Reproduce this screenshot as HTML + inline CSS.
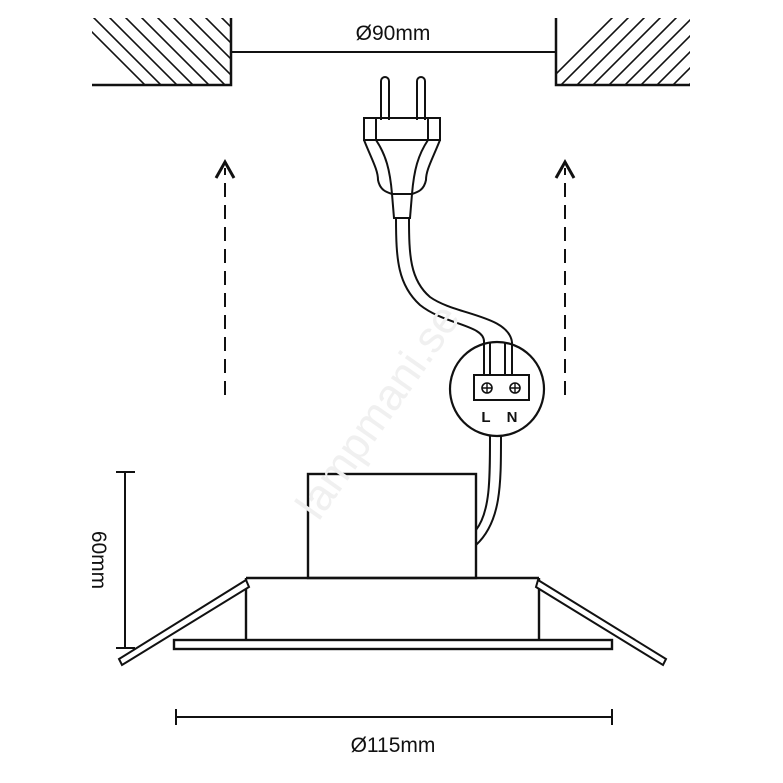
<!DOCTYPE html>
<html><head><style>body{margin:0;background:#fff}svg{display:block}</style></head><body>
<svg width="783" height="783" viewBox="0 0 783 783" xmlns="http://www.w3.org/2000/svg">
<defs>
<clipPath id="cl"><rect x="92" y="18" width="138" height="67"/></clipPath>
<clipPath id="cr"><rect x="556" y="18" width="134" height="67"/></clipPath>
</defs>
<g stroke="#111" stroke-width="1.6" fill="none">
<g clip-path="url(#cl)">
<path d="M40,-20 l110,110 M56,-20 l110,110 M72,-20 l110,110 M88,-20 l110,110 M104,-20 l110,110 M120,-20 l110,110 M136,-20 l110,110 M152,-20 l110,110 M168,-20 l110,110 M184,-20 l110,110 M200,-20 l110,110 M216,-20 l110,110"/>
</g>
<g clip-path="url(#cr)">
<path d="M540,90 l110,-110 M556,90 l110,-110 M572,90 l110,-110 M588,90 l110,-110 M604,90 l110,-110 M620,90 l110,-110 M636,90 l110,-110 M652,90 l110,-110 M668,90 l110,-110 M684,90 l110,-110 M700,90 l110,-110"/>
</g>
<path d="M92,85 H231 V18" stroke-width="2.5"/>
<path d="M690,85 H556 V18" stroke-width="2.5"/>
<path d="M231,52 H556" stroke-width="2"/>
<path d="M225,395 V168 M565,395 V168" stroke-width="2" stroke-dasharray="14,8"/>
<path d="M216,178 L225,162 L234,178 M556,178 L565,162 L574,178" stroke-width="3"/>
<path d="M381,120 V81 a4,4 0 0 1 8,0 V120 M417,120 V81 a4,4 0 0 1 8,0 V120" stroke-width="2"/>
<rect x="364" y="118" width="76" height="22" stroke-width="2"/>
<path d="M376,118 V140 M428,118 V140" stroke-width="2"/>
<path d="M364,140 C372,160 378,170 378,180 C380,190 386,192 392,194 L412,194 C418,192 424,190 426,180 C426,170 432,160 440,140" stroke-width="2"/>
<path d="M376,140 C386,155 390,170 392,194 M428,140 C418,155 414,170 412,194" stroke-width="2"/>
<path d="M392,194 L394,218 H410 L412,194" stroke-width="2"/>
<path d="M396,218 C396,260 398,285 420,305 C445,325 485,325 484,342" stroke-width="2"/>
<path d="M409,218 C409,255 410,280 430,297 C455,315 508,315 512,342" stroke-width="2"/>
<circle cx="497" cy="389" r="47" stroke-width="2.2"/>
<path d="M484,342 V375 M490,342 V375 M505,342 V375 M512,342 V375" stroke-width="2"/>
<rect x="474" y="375" width="55" height="25" stroke-width="2"/>
<circle cx="487" cy="388" r="5" stroke-width="1.6"/><path d="M482,388 h10 M487,383 v10" stroke-width="1.4"/>
<circle cx="515" cy="388" r="5" stroke-width="1.6"/><path d="M510,388 h10 M515,383 v10" stroke-width="1.4"/>
<path d="M490,436 C490,480 490,512 476,530 M501,436 C501,485 501,522 476,545" stroke-width="2"/>
<rect x="308" y="474" width="168" height="104" stroke-width="2.4"/>
<path d="M246,578 H539 M246,578 V640 M539,578 V640" stroke-width="2.4"/>
<rect x="174" y="640" width="438" height="9" stroke-width="2.4"/>
<path d="M246,580 L119,659 L122,665 L249,587 Z" stroke-width="2" fill="#fff"/>
<path d="M538,580 L666,659 L663,665 L536,587 Z" stroke-width="2" fill="#fff"/>
<path d="M125,472 V648 M116,472 H135 M116,648 H135" stroke-width="2"/>
<path d="M176,717 H612 M176,709 V725 M612,709 V725" stroke-width="2"/>
</g>
<text transform="translate(390,420) rotate(-55)" font-family="Liberation Sans, sans-serif" font-size="44" fill="#f0f0f0" text-anchor="middle">lampmani.se</text>
<g font-family="Liberation Sans, sans-serif" fill="#111">
<text x="393" y="40" font-size="21" text-anchor="middle">Ø90mm</text>
<text x="393" y="752" font-size="21" text-anchor="middle">Ø115mm</text>
<text transform="translate(92,560) rotate(90)" font-size="21" text-anchor="middle">60mm</text>
<text x="486" y="422" font-size="15" font-weight="bold" text-anchor="middle">L</text>
<text x="512" y="422" font-size="15" font-weight="bold" text-anchor="middle">N</text>
</g>
</svg>
</body></html>
